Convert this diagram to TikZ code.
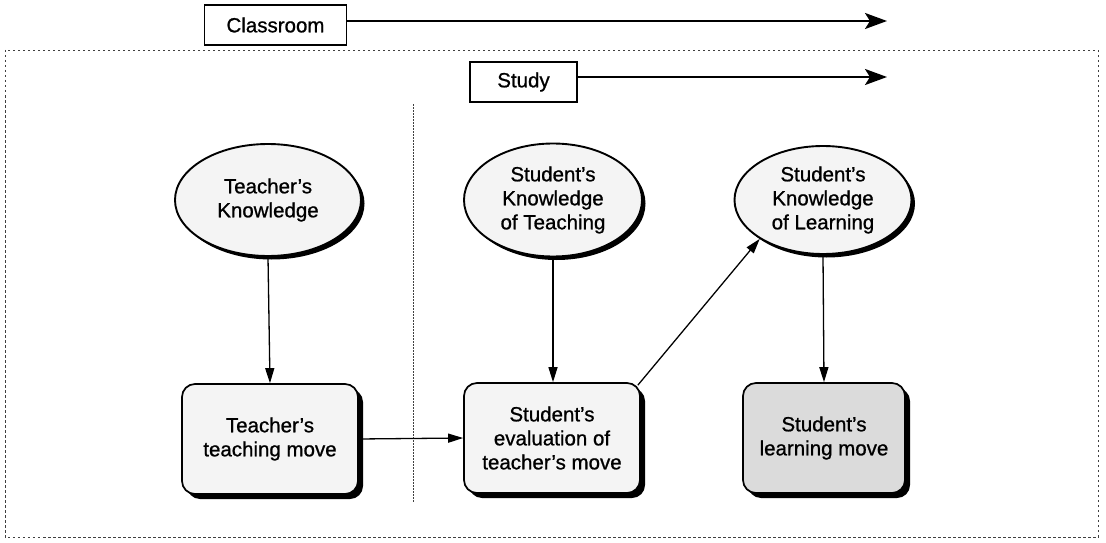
\documentclass[tikz,border=0pt]{standalone}
\usepackage{fontspec}
\setmainfont[FakeBold=0.9]{Liberation Sans}
\usetikzlibrary{arrows.meta,shapes.geometric,shadows}
\tikzset{
  txt/.style={font=\fontsize{20.5}{24}\selectfont, align=center, text=black},
  labelbox/.style={txt, draw=black, line width=1.6pt, rectangle, inner sep=0pt},
  timearrow/.style={draw=black, line width=2.4pt, -{Stealth[length=22pt,width=16pt,inset=5pt]}},
  know/.style={txt, ellipse, draw=black, line width=1.9pt, fill=gray!9, inner sep=0pt,
    minimum width=182pt, minimum height=110pt,
    drop shadow={shadow xshift=3.5pt, shadow yshift=-3.5pt, fill=black, opacity=1}},
  move/.style={txt, rectangle, rounded corners=13pt, draw=black, line width=1.7pt, fill=gray!9, inner sep=0pt,
    minimum width=176pt, minimum height=110pt,
    drop shadow={shadow xshift=5pt, shadow yshift=-5pt, fill=black, opacity=1}},
  link/.style={draw=black, line width=1.3pt, -{Triangle[length=15pt,width=9pt]}},
  frame/.style={draw=black!75, line width=0.9pt, dash pattern=on 2.5pt off 2.5pt},
}
\begin{document}
\begin{tikzpicture}[x=1pt,y=-1pt]
\useasboundingbox (0,0) rectangle (1106,543);
% outer frame
\draw[frame] (5,50) rectangle (1098,537);
% timeline labels
\node[labelbox, minimum width=142pt, minimum height=40pt] (classroom) at (275.5,25) {Classroom};
\coordinate (classend) at (887,21);
\draw[timearrow] ([yshift=4pt]classroom.east) -- (classend);
\node[labelbox, minimum width=107pt, minimum height=40pt] (study) at (523.5,82) {Study};
\coordinate (studyend) at (887,77);
\draw[timearrow] ([yshift=5pt]study.east) -- (studyend);
% divider
\coordinate (divtop) at (413,104);
\coordinate (divbot) at (413,503);
\draw[frame, dash pattern=on 1.5pt off 1.5pt, line width=1pt] (divtop) -- (divbot);
% knowledge ellipses
\node[know, minimum width=186pt, minimum height=112pt] (tk) at (268,200) {Teacher's\\Knowledge};
\node[know, minimum height=113pt, minimum width=178pt] (skt) at (553,200) {Student's\\Knowledge\\of Teaching};
\node[know, minimum height=108pt, minimum width=177pt] (skl) at (823,200) {Student's\\Knowledge\\of Learning};
% move boxes
\node[move] (ttm) at (270,439) {Teacher's\\teaching move};
\node[move] (sev) at (552,438) {Student's\\evaluation of\\teacher's move};
\node[move, minimum width=162pt, fill=gray!28] (slm) at (824,438) {Student's\\learning move};
% connectors
\draw[link] (tk.south) -- (ttm.north);
\draw[link] (skt.south) -- (skt.south |- sev.north);
\draw[link] (skl.south) -- (slm.north);
\draw[link] (ttm.east) -- (sev.west);
\draw[link] ([xshift=-3pt,yshift=-3pt]sev.north east) -- (skl.south west);
\end{tikzpicture}
\end{document}
